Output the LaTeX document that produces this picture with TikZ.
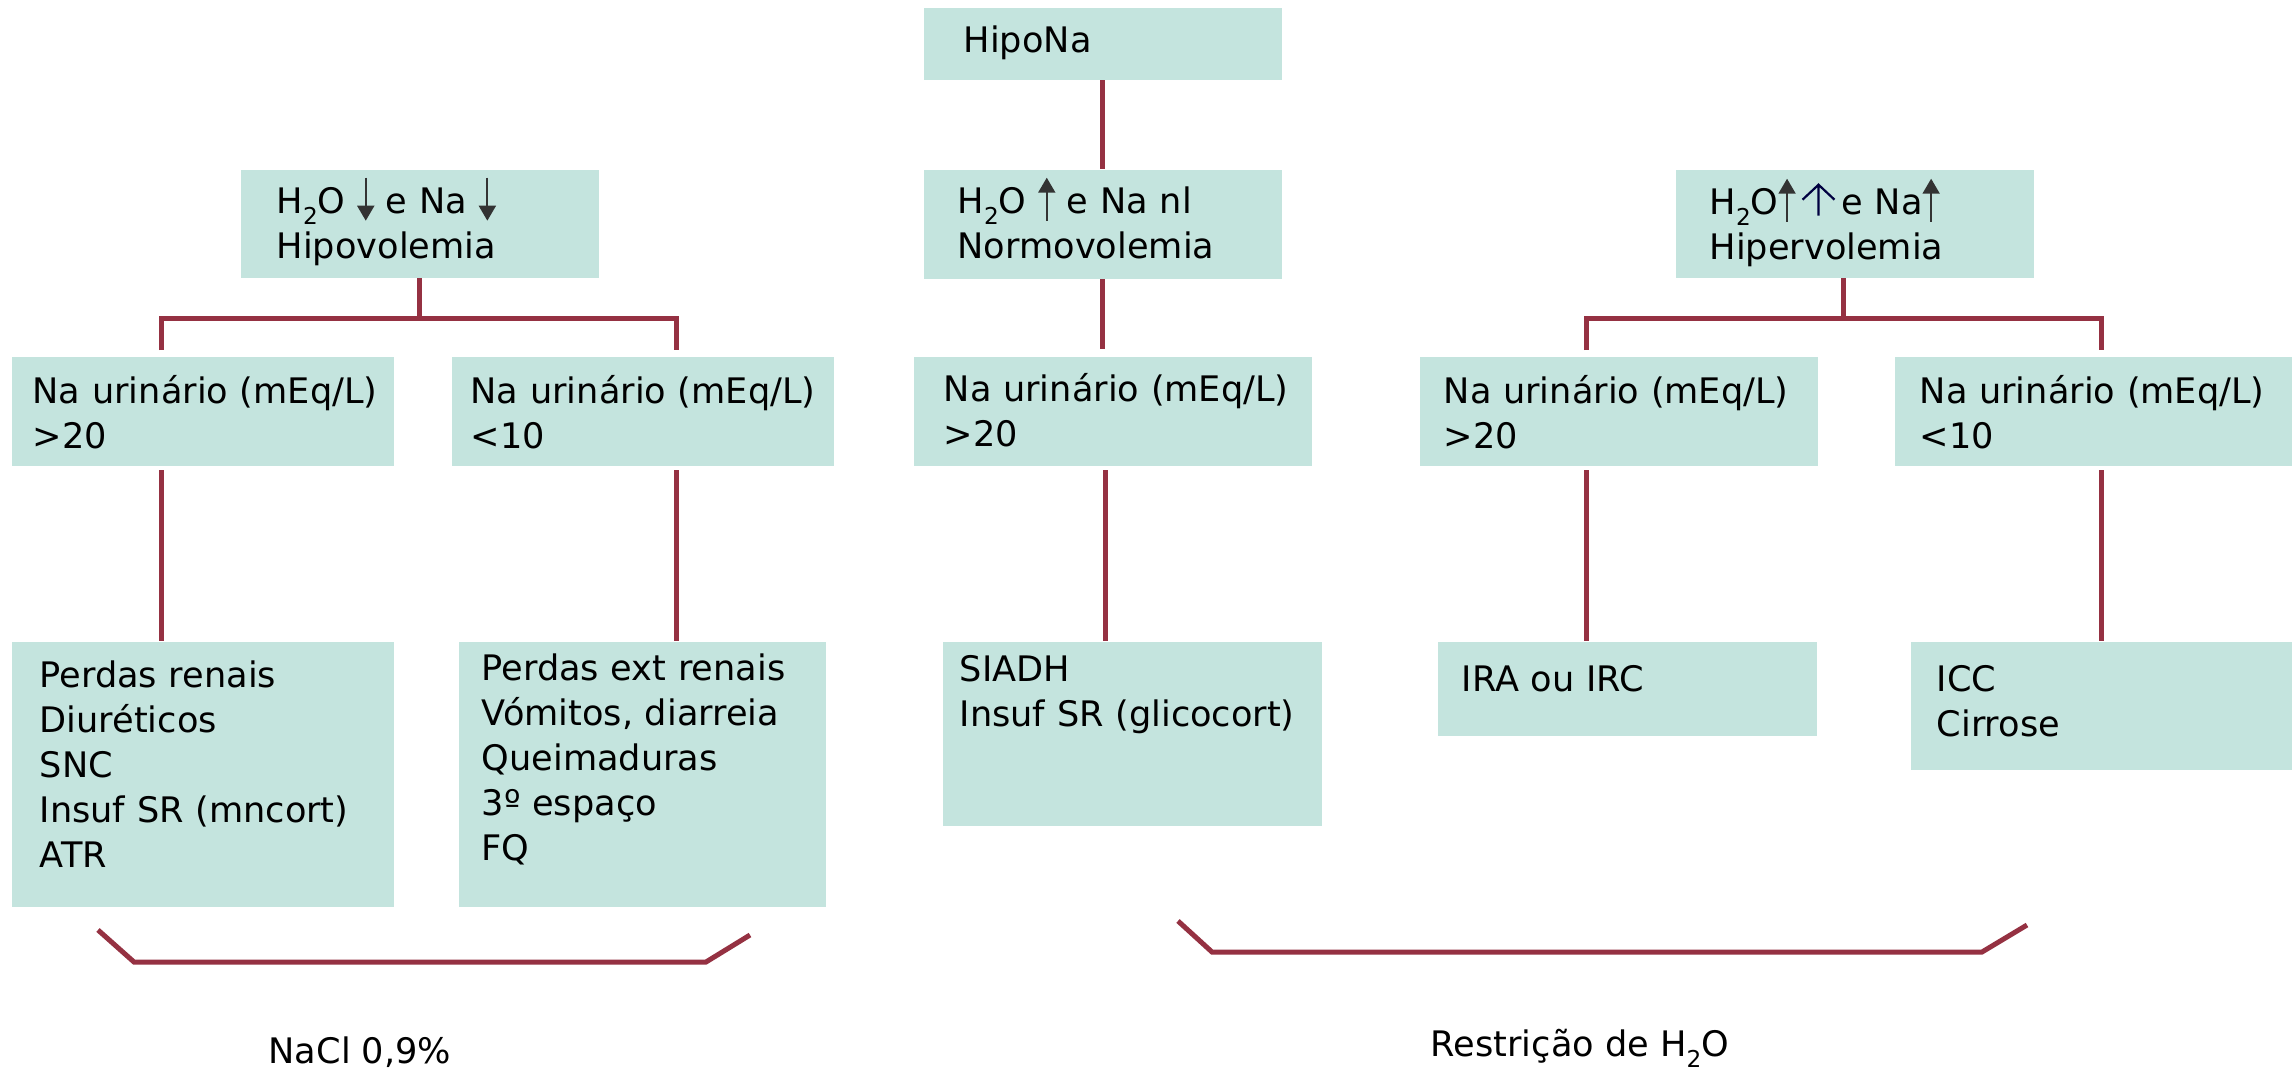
\documentclass[tikz,border=0pt]{standalone}
\usepackage{fontspec}
\setmainfont{DejaVu Sans}
\usepackage{tikz}
\usetikzlibrary{arrows.meta}
\definecolor{verde}{HTML}{C4E4DE}
\definecolor{vinho}{HTML}{953142}
\definecolor{cinza}{HTML}{333333}
\definecolor{marinho}{HTML}{000040}
\hyphenpenalty=10000
\tikzset{
  caixa/.style n args={4}{fill=verde,anchor=north west,inner sep=0pt,align=left,
    font=\fontsize{10}{12.8}\selectfont,minimum width=#1,text width=#2,text height=#3,text depth=#4},
  liga/.style={draw=vinho,line width=0.5mm},
  seta/.style={-{Triangle[length=1.5mm,width=1.7mm]},line width=0.2mm,color=cinza},
  rotulo/.style={anchor=base,inner sep=0pt,font=\fontsize{10}{12.8}\selectfont},
}
\newcommand{\indice}[1]{\raisebox{-1.1mm}{\fontsize{6.6}{7}\selectfont #1}}
\newcommand{\sobe}{\tikz[baseline=0pt]\draw[seta] (0pt,-0.7mm) -- (0pt,3.6mm);}
\newcommand{\desce}{\tikz[baseline=0pt]\draw[seta] (0pt,3.6mm) -- (0pt,-0.7mm);}
\newcommand{\sobeazul}{\tikz[baseline=0pt]\draw[marinho,line width=0.22mm]
  (-1.6mm,1.5mm) -- (0pt,3.0mm) -- (1.6mm,1.5mm) (0pt,3.0mm) -- (0pt,-0.1mm);}

\begin{document}
\begin{tikzpicture}[x=0.1mm,y=-0.1mm]
  \useasboundingbox (0,0) rectangle (2292,1070);
  \fill[white] (0,0) rectangle (2292,1070);
  % topo e tres ramos
  \node[caixa={35.8mm}{27.8mm}{4.5mm}{2.7mm}] (hipona) at (923,7) {HipoNa};
  \node[caixa={35.8mm}{28.6mm}{4.4mm}{6.4mm}] (hipo) at (240,169) {H\indice{2}O \desce{} e Na \desce\\Hipovolemia};
  \node[caixa={35.8mm}{29.0mm}{4.4mm}{6.5mm}] (normo) at (923,169) {H\indice{2}O \sobe{} e Na nl\\Normovolemia};
  \node[caixa={35.8mm}{29.0mm}{4.5mm}{6.3mm}] (hiper) at (1675,169) {H\indice{2}O\sobe\,\sobeazul\,e Na\sobe\\Hipervolemia};
  % sodio urinario
  \node[caixa={38.2mm}{34.0mm}{4.7mm}{6.2mm}] (na1) at (11,356) {\mbox{Na urinário (mEq/L)}\\>20};
  \node[caixa={38.2mm}{34.4mm}{4.7mm}{6.2mm}] (na2) at (451,356) {\mbox{Na urinário (mEq/L)}\\<10};
  \node[caixa={39.8mm}{33.8mm}{4.5mm}{6.4mm}] (na3) at (913,356) {\mbox{Na urinário (mEq/L)}\\>20};
  \node[caixa={39.8mm}{35.0mm}{4.7mm}{6.2mm}] (na4) at (1419,356) {\mbox{Na urinário (mEq/L)}\\>20};
  \node[caixa={39.8mm}{34.8mm}{4.7mm}{6.2mm}] (na5) at (1894,356) {\mbox{Na urinário (mEq/L)}\\<10};
  % causas
  \node[caixa={38.2mm}{32.6mm}{4.6mm}{21.9mm}] (perdas) at (11,641) {Perdas renais\\Diuréticos\\SNC\\Insuf SR (mncort)\\ATR};
  \node[caixa={36.7mm}{32.1mm}{3.9mm}{22.6mm}] (ext) at (458,641) {Perdas ext renais\\Vómitos, diarreia\\Queimaduras\\3º espaço\\FQ};
  \node[caixa={37.9mm}{34.5mm}{4.0mm}{14.4mm}] (siadh) at (942,641) {SIADH\\\mbox{Insuf SR (glicocort)}};
  \node[caixa={37.9mm}{33.1mm}{5.0mm}{4.4mm}] (ira) at (1437,641) {IRA ou IRC};
  \node[caixa={38.2mm}{33.0mm}{5.0mm}{7.8mm}] (icc) at (1910,641) {ICC\\Cirrose};

  \coordinate (r1) at (161,318);
  \coordinate (r2) at (676,318);
  \coordinate (r3) at (1586,318);
  \coordinate (r4) at (2101,318);
  \coordinate (rh) at (1843,318);

  \draw[liga] (hipona) -- (normo);
  \draw[liga] (normo.south) -- ([yshift=0.7mm]normo.south |- na3.north);
  \draw[liga] ([xshift=-0.7mm,yshift=-0.4mm]na3.south) -- ([xshift=-0.7mm]na3.south |- siadh.north);

  \draw[liga] (hipo.south) -- (hipo.south |- r1);
  \draw[liga] ([yshift=0.6mm]r1 |- na1.north) -- (r1) -- (r2) -- ([yshift=0.6mm]r2 |- na2.north);
  \draw[liga] ([yshift=-0.4mm]r1 |- na1.south) -- (r1 |- perdas.north);
  \draw[liga] ([yshift=-0.4mm]r2 |- na2.south) -- (r2 |- ext.north);

  \draw[liga] (hiper.south -| rh) -- (rh);
  \draw[liga] ([yshift=0.6mm]r3 |- na4.north) -- (r3) -- (r4) -- ([yshift=0.6mm]r4 |- na5.north);
  \draw[liga] ([yshift=-0.4mm]r3 |- na4.south) -- (r3 |- ira.north);
  \draw[liga] ([yshift=-0.4mm]r4 |- na5.south) -- (r4 |- icc.north);

  % chaves de tratamento
  \draw[liga] (98,930) -- (134,962) -- (706,962) -- (750,935);
  \draw[liga] (1178,921) -- (1212,952) -- (1982,952) -- (2027,925);
  \node[rotulo] (nacl) at (360,1063) {NaCl 0,9\%};
  \node[rotulo] (restr) at (1580,1056) {Restrição de H\indice{2}O};
\end{tikzpicture}
\end{document}
